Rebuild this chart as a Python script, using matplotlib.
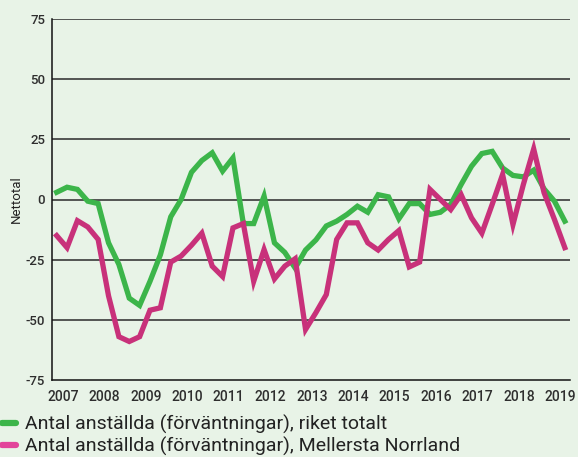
import matplotlib
matplotlib.use("Agg")
import matplotlib.pyplot as plt
from matplotlib.lines import Line2D

plt.rcParams['font.family'] = ['Roboto', 'DejaVu Sans']

quarters = [f"{y}Q{q}" for y in range(2007, 2020) for q in range(1, 5)][:50]

riket = [3.0, 5.1, 4.2, -0.7, -1.7, -18, -27, -41, -44, -34,
         -23, -7.2, 0, 11.3, 16.2, 19.4, 11.8, 17.3, -10, -10,
         1.4, -18, -22, -28.5, -21, -16.8, -11, -9, -6.2, -2.8,
         -5.3, 2.0, 1.1, -8, -1.7, -1.7, -6.2, -5.3, -2, 6.2,
         13.8, 19.1, 20, 13.1, 10, 9.4, 12.2, 4.4, -0.7, -9]

mellersta = [-15, -20, -8.8, -11.4, -16.6, -40, -57, -59, -57, -46,
             -45, -26, -23.5, -19, -14, -27.7, -32, -11.8, -10, -34,
             -20.8, -33, -27.7, -24.6, -54, -47, -39.5, -16.6, -9.7, -9.7,
             -18, -21, -16.6, -12.9, -28, -26, 4.2, 0, -4.2, 2,
             -7.6, -14, -2, 10.4, -10.4, 6.2, 21, 2.8, -8.3, -20]

years = [str(y) for y in range(2007, 2020)]
yticks = [-75, -50, -25, 0, 25, 50, 75]
labels = ["Antal anställda (förväntningar), riket totalt",
          "Antal anställda (förväntningar), Mellersta Norrland"]

bg = '#e8f3e7'
green = '#3cb54a'
pink = '#c8317a'
pink_leg = '#e2449a'

fig = plt.figure(figsize=(5.78, 4.57), dpi=100, facecolor=bg)
ax = fig.add_axes([52/578, 1-380/457, (570-52)/578, (380-19)/457], facecolor=bg)

x = list(range(len(quarters)))
ax.plot(x, riket, color=green, lw=3.8, solid_joinstyle='miter', zorder=3)
ax.plot(x, mellersta, color=pink, lw=3.8, solid_joinstyle='miter', zorder=4)

ax.set_ylim(-75, 75)
ax.set_xlim(-0.45, 49.5)
ax.set_yticks(yticks)
ax.set_yticklabels([str(v) for v in yticks], fontsize=9.5, color='#2e2e2e', fontweight='medium')
ax.set_xticks([4*i + 0.6 for i in range(len(years))])
ax.set_xticklabels(years, fontsize=10, color='#2e2e2e', fontweight='medium')
ax.tick_params(length=0)
ax.tick_params(axis='x', pad=7)
ax.tick_params(axis='y', pad=5)

for v in yticks[1:]:
    ax.axhline(v, color='#2a2a2a', lw=1.1, zorder=1)

for s in ['top', 'right']:
    ax.spines[s].set_visible(False)
ax.spines['left'].set_color('#111111')
ax.spines['bottom'].set_color('#111111')
ax.spines['left'].set_linewidth(1.1)
ax.spines['bottom'].set_linewidth(1.1)

ax.set_ylabel('Nettotal', fontsize=9.5, color='#222222', labelpad=2)

handles = [Line2D([0], [0], color=green, lw=4.5, solid_capstyle='round'),
           Line2D([0], [0], color=pink_leg, lw=4.5, solid_capstyle='round')]
fig.legend(handles, labels, loc='lower left', bbox_to_anchor=(0.004, 1/457),
           frameon=False, fontsize=14, handlelength=0.7, handletextpad=0.45,
           labelspacing=0.14, borderaxespad=0, borderpad=0.0, labelcolor='#222222')

fig.savefig('out.png', dpi=100, facecolor=bg)
